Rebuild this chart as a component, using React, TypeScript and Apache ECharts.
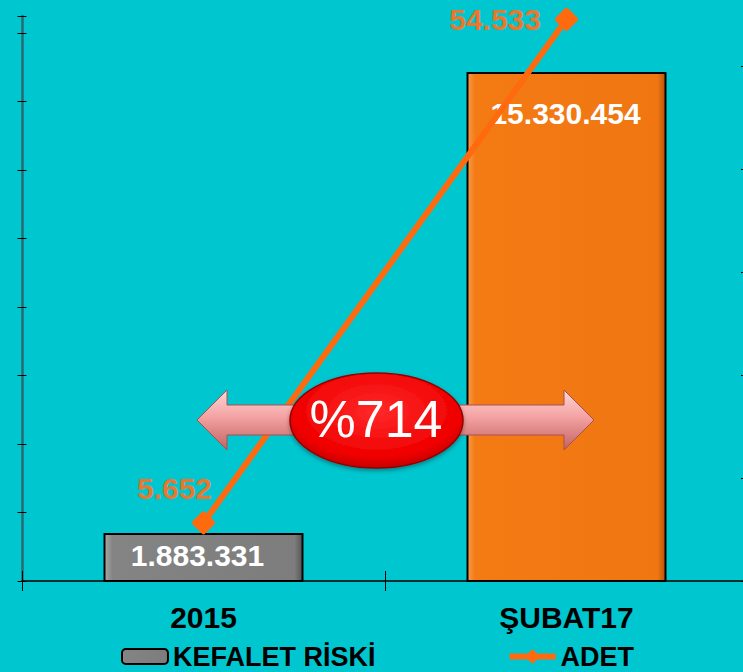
import React, { useEffect, useRef } from "react";
import * as echarts from "echarts";

const categories = ["2015", "ŞUBAT17"];
const riskValues = [1883331, 15330454];
const riskLabels = ["1.883.331", "15.330.454"];
const adetValues = [5652, 54533];
const adetLabels = ["5.652", "54.533"];
const legendNames = ["KEFALET RİSKİ", "ADET"];
const changeText = "%714";

// scale settings
const riskAxisMin = 483200;
const riskAxisMax = 16963911;
const adetAxisMax = 60000;
const adetAxisInterval = 10000;
const tickAxisMax = 8.248;

const FONT = "'Liberation Sans', Arial, sans-serif";
// the chart canvas is a little larger than the window so that the
// right axis and the top of the line axis fall just outside it
const OFF_Y = 40;
const CANVAS_W = 750;
const CANVAS_H = 672 + OFF_Y;

export default function App() {
  const ref = useRef<HTMLDivElement>(null);
  useEffect(() => {
    document.body.style.margin = "0";
    const chart = echarts.init(ref.current!, undefined, { renderer: "svg" });
    const grayFill = new echarts.graphic.LinearGradient(1, 0, 0, 0, [
      { offset: 0, color: "#555555" },
      { offset: 0.04, color: "#7d7d7d" },
      { offset: 0.96, color: "#848484" },
      { offset: 1, color: "#a8a8a8" },
    ]);
    const orangeFill = new echarts.graphic.LinearGradient(1, 0, 0, 0, [
      { offset: 0, color: "#b25606" },
      { offset: 0.04, color: "#f07612" },
      { offset: 0.96, color: "#f47a14" },
      { offset: 1, color: "#f79a4a" },
    ]);
    const barColors = [grayFill, orangeFill];
    const lineColor = "#ff6a0e";
    const labelOrange = "#e8782e";
    const y = (v: number) => v + OFF_Y;

    chart.setOption({
      animation: false,
      backgroundColor: "#00c6cf",
      textStyle: { fontFamily: FONT },
      grid: [
        { left: 22, right: CANVAS_W - 748, top: y(16), bottom: 91 },
        { left: 22, right: CANVAS_W - 748, top: y(-37), bottom: 91 },
      ],
      legend: {
        left: 116,
        top: y(638),
        itemWidth: 46,
        itemHeight: 15,
        itemGap: 131,
        textStyle: { fontSize: 27, fontWeight: "bold", color: "#000", fontFamily: FONT },
        data: [
          { name: legendNames[0] },
          {
            name: legendNames[1],
            lineStyle: { width: 6, color: lineColor },
            itemStyle: { color: lineColor },
          },
        ],
      },
      xAxis: [
        {
          type: "category",
          gridIndex: 0,
          data: categories,
          axisLine: { lineStyle: { color: "#000", width: 1.5 } },
          axisTick: { show: true, length: 10, lineStyle: { color: "#000" } },
          axisLabel: { margin: 21, fontSize: 30, fontWeight: "bold", color: "#000", fontFamily: FONT },
        },
        {
          type: "category",
          gridIndex: 1,
          data: categories,
          axisLine: { show: false },
          axisTick: { show: true, inside: true, length: 10, lineStyle: { color: "#000" } },
          axisLabel: { show: false },
        },
      ],
      yAxis: [
        {
          type: "value",
          gridIndex: 0,
          min: 0,
          max: tickAxisMax,
          interval: 1,
          position: "left",
          axisLine: { show: true, lineStyle: { color: "#2a6a70", width: 2.5 } },
          axisTick: { show: true, length: 4.5, lineStyle: { color: "#000" } },
          axisLabel: { show: false },
          splitLine: { show: false },
        },
        {
          type: "value",
          gridIndex: 0,
          min: 0,
          max: tickAxisMax,
          interval: 1,
          position: "left",
          axisLine: { show: false },
          axisTick: { show: true, inside: true, length: 4.5, lineStyle: { color: "#000" } },
          axisLabel: { show: false },
          splitLine: { show: false },
        },
        {
          type: "value",
          gridIndex: 0,
          min: riskAxisMin,
          max: riskAxisMax,
          show: false,
          splitLine: { show: false },
        },
        {
          type: "value",
          gridIndex: 1,
          position: "right",
          min: 0,
          max: adetAxisMax,
          interval: adetAxisInterval,
          axisLine: { show: false },
          axisTick: { show: true, inside: true, length: 7, lineStyle: { color: "#000" } },
          axisLabel: { show: false },
          splitLine: { show: false },
        },
      ],
      series: [
        {
          name: legendNames[0],
          type: "bar",
          xAxisIndex: 0,
          yAxisIndex: 2,
          clip: true,
          barWidth: 200,
          itemStyle: { color: grayFill, borderColor: "#000", borderWidth: 2 },
          data: riskValues.map((v, i) => ({
            value: v,
            itemStyle: { color: barColors[i], borderColor: "#000", borderWidth: 2 },
            label: {
              show: true,
              position: i === 0 ? "inside" : "insideTop",
              distance: 27,
              offset: i === 0 ? [-6, -2] : [-1, 0],
              formatter: riskLabels[i],
              color: "#fff",
              fontSize: 30,
              fontWeight: "bold",
              fontFamily: FONT,
            },
          })),
        },
        {
          name: legendNames[1],
          type: "line",
          xAxisIndex: 1,
          yAxisIndex: 3,
          symbol: "diamond",
          symbolSize: 18,
          z: 3,
          lineStyle: { color: lineColor, width: 6 },
          itemStyle: { color: lineColor, borderColor: lineColor, borderWidth: 5, borderJoin: "round" },
          data: adetValues.map((v, i) => ({
            value: v,
            label: {
              show: true,
              position: i === 0 ? "top" : "left",
              distance: i === 0 ? 8 : 14,
              offset: i === 0 ? [-29, 0] : [0, 0],
              formatter: adetLabels[i],
              color: labelOrange,
              fontSize: 30,
              fontWeight: "bold",
              fontFamily: FONT,
            },
          })),
        },
      ],
      graphic: [
        {
          type: "polygon",
          z: 100,
          shape: {
            points: [
              [197, y(420)], [227, y(390)], [227, y(405)], [564, y(405)], [564, y(390)],
              [594, y(420)], [564, y(450)], [564, y(435)], [227, y(435)], [227, y(450)],
            ],
          },
          style: {
            fill: new echarts.graphic.LinearGradient(0, 0, 0, 1, [
              { offset: 0, color: "#ffd6d6" },
              { offset: 0.45, color: "#f4a2a2" },
              { offset: 1, color: "#c26262" },
            ]),
            stroke: "#a85050",
            lineWidth: 1,
          },
        },
        {
          type: "ellipse",
          z: 101,
          shape: { cx: 376.5, cy: y(420.5), rx: 86.5, ry: 47.5 },
          style: {
            fill: new echarts.graphic.RadialGradient(0.5, 0.4, 0.6, [
              { offset: 0, color: "#ff2a2a" },
              { offset: 0.8, color: "#f00000" },
              { offset: 1, color: "#c80000" },
            ]),
            stroke: "#900000",
            lineWidth: 1.5,
            shadowBlur: 4,
            shadowColor: "rgba(0,0,0,0.35)",
            shadowOffsetY: 2,
          },
        },
        {
          type: "text",
          z: 102,
          x: 376,
          y: y(419),
          style: {
            text: changeText,
            fill: "#fff",
            font: "52px 'Liberation Sans', Arial, sans-serif",
            align: "center",
            verticalAlign: "middle",
          },
        },
      ],
    });
    return () => chart.dispose();
  }, []);
  return (
    <div style={{ width: 743, height: 672, overflow: "hidden", position: "relative" }}>
      <div
        ref={ref}
        style={{ position: "absolute", left: 0, top: -OFF_Y, width: CANVAS_W, height: CANVAS_H }}
      />
    </div>
  );
}
